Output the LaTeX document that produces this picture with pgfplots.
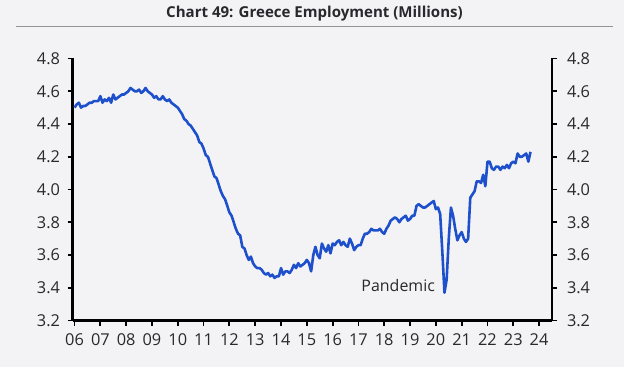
\documentclass[border=0pt]{standalone}
\usepackage{fontspec}
\setmainfont{Open Sans}
\usepackage{pgfplots}
\pgfplotsset{compat=1.18}
\definecolor{bgc}{RGB}{243,243,246}
\definecolor{linec}{RGB}{30,80,204}
\definecolor{txt}{RGB}{40,40,45}
\begin{document}
\begin{tikzpicture}[x=1bp,y=1bp]
\fill[bgc] (-72.5,-46.5) rectangle (551.5,320.5);
\useasboundingbox (-72.5,-46.5) rectangle (551.5,320.5);
\node[anchor=base,font=\fontsize{15.1}{17}\bfseries\selectfont,text=txt] at (242,303.5) {Chart 49: Greece Employment (Millions)};
\draw[color=gray!85,line width=1.1bp] (-56.5,293.8) -- (540.5,293.8);
\begin{axis}[
  at={(0,0)}, anchor=south west,
  scale only axis, width=479.5bp, height=262bp,
  xmin=2005.92, xmax=2024.5, ymin=3.2, ymax=4.8,
  axis x line*=bottom, axis y line*=left,
  axis line style={black,line width=2.2bp},
  xtick={2006,...,2024},
  xticklabels={06,07,08,09,10,11,12,13,14,15,16,17,18,19,20,21,22,23,24},
  ytick={3.2,3.4,...,4.81},
  tick align=outside, major tick length=5bp,
  tick style={black,line width=1.8bp},
  /pgf/number format/assume math mode=true,
  /pgf/number format/fixed, /pgf/number format/fixed zerofill, /pgf/number format/precision=1,
  tick label style={font=\fontsize{16.4}{19}\selectfont, text=txt},
  yticklabel style={xshift=-4bp},
  xticklabel style={yshift=-5bp},
  clip=false,
]
\addplot[linec, line width=2.6bp, no markers, line join=round] table[header=false, row sep=\\, x expr=2006+\coordindex/12, y index=0] {
4.50\\4.52\\4.53\\4.50\\4.51\\4.51\\4.52\\4.53\\4.53\\4.54\\4.54\\4.54\\
4.57\\4.53\\4.55\\4.54\\4.56\\4.53\\4.58\\4.55\\4.56\\4.57\\4.58\\4.58\\
4.59\\4.60\\4.62\\4.61\\4.60\\4.60\\4.61\\4.59\\4.60\\4.62\\4.60\\4.59\\
4.58\\4.56\\4.57\\4.55\\4.55\\4.57\\4.55\\4.54\\4.55\\4.53\\4.52\\4.51\\
4.50\\4.48\\4.46\\4.43\\4.42\\4.40\\4.39\\4.37\\4.35\\4.33\\4.29\\4.28\\
4.25\\4.21\\4.20\\4.16\\4.12\\4.08\\4.07\\4.03\\3.99\\3.96\\3.94\\3.90\\
3.86\\3.84\\3.80\\3.76\\3.73\\3.72\\3.65\\3.64\\3.60\\3.57\\3.59\\3.55\\
3.53\\3.52\\3.52\\3.51\\3.49\\3.48\\3.49\\3.47\\3.48\\3.46\\3.47\\3.47\\
3.52\\3.48\\3.50\\3.50\\3.49\\3.51\\3.54\\3.52\\3.55\\3.53\\3.54\\3.55\\
3.57\\3.55\\3.50\\3.60\\3.65\\3.60\\3.58\\3.67\\3.64\\3.62\\3.66\\3.61\\
3.67\\3.66\\3.68\\3.69\\3.66\\3.68\\3.66\\3.65\\3.70\\3.67\\3.63\\3.65\\
3.66\\3.66\\3.70\\3.73\\3.73\\3.74\\3.76\\3.75\\3.75\\3.75\\3.76\\3.74\\
3.73\\3.76\\3.78\\3.81\\3.82\\3.83\\3.82\\3.80\\3.82\\3.83\\3.84\\3.81\\
3.82\\3.84\\3.84\\3.90\\3.91\\3.90\\3.89\\3.89\\3.90\\3.91\\3.92\\3.93\\
3.88\\3.89\\3.85\\3.62\\3.37\\3.45\\3.70\\3.89\\3.84\\3.76\\3.69\\3.72\\
3.74\\3.70\\3.68\\3.70\\3.95\\3.97\\3.99\\4.05\\4.05\\4.04\\4.09\\4.02\\
4.17\\4.17\\4.13\\4.12\\4.14\\4.14\\4.12\\4.14\\4.13\\4.15\\4.13\\4.16\\
4.17\\4.16\\4.22\\4.20\\4.20\\4.21\\4.22\\4.17\\4.23\\
};
\node[anchor=east, font=\fontsize{16}{19}\selectfont, text=txt, inner sep=0pt] at (axis cs:2019.97,3.415) {Pandemic};
\end{axis}
\begin{axis}[
  at={(0,0)}, anchor=south west,
  scale only axis, width=479.5bp, height=262bp,
  xmin=2005.92, xmax=2024.5, ymin=3.2, ymax=4.8,
  axis x line=none, axis y line*=right,
  axis line style={black,line width=2.2bp},
  ytick={3.2,3.4,...,4.81},
  tick align=outside, major tick length=5bp,
  tick style={black,line width=1.8bp},
  /pgf/number format/assume math mode=true,
  /pgf/number format/fixed, /pgf/number format/fixed zerofill, /pgf/number format/precision=1,
  tick label style={font=\fontsize{16.4}{19}\selectfont, text=txt},
  yticklabel style={xshift=6.5bp},
]
\end{axis}
\end{tikzpicture}
\end{document}
